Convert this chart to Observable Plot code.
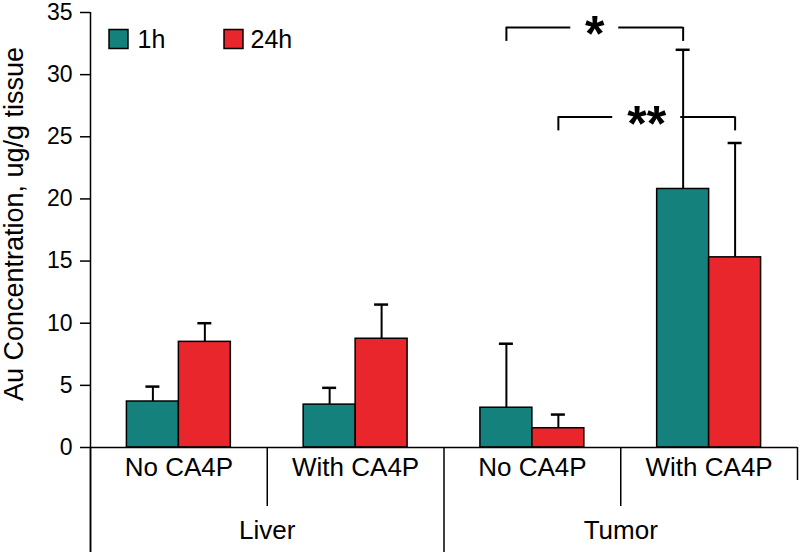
<!DOCTYPE html>
<html><head><meta charset="utf-8">
<script src="https://cdn.jsdelivr.net/npm/d3@7"></script>
<script src="https://cdn.jsdelivr.net/npm/@observablehq/plot@0.6"></script>
<style>body{margin:0;background:#fff} svg{display:block}</style>
</head><body><div id="chart"></div>
<script>
// ---- data ----
const organs = ["Liver", "Liver", "Tumor", "Tumor"];
const treatments = ["No CA4P", "With CA4P", "No CA4P", "With CA4P"];
const series = ["1h", "24h"];
const mean1h = [3.7, 3.45, 3.2, 20.8];
const mean24h = [8.5, 8.75, 1.55, 15.3];
const sd1h = [1.2, 1.35, 5.15, 11.2];
const sd24h = [1.5, 2.75, 1.1, 9.2];
const yTicks = [0, 5, 10, 15, 20, 25, 30, 35];
const yLabel = "Au Concentration, ug/g tissue";
// significance brackets: compare group index from -> to for a series
const sigLabels = ["*", "**"];
const sigFrom = [2, 2];
const sigTo = [3, 3];
const sigSeries = ["1h", "24h"];
const sigLevel = [33.8, 26.6];

// ---- style ----
const colors = ["#14817d", "#e8262b"];
const FONT = "'Liberation Sans', Arial, Helvetica, sans-serif";
const BW = 0.294; // bar width in group units

const means = [mean1h, mean24h];
const sds = [sd1h, sd24h];
const rows = treatments.flatMap((t, i) => series.map((s, j) => {
  const x1 = i + 0.5 + (j - 1) * BW;
  return {i, organ: organs[i], treatment: t, series: s, mean: means[j][i], sd: sds[j][i],
          x1, x2: x1 + BW, xc: x1 + BW / 2};
}));
const center = (i, s) => i + 0.5 + (series.indexOf(s) - 0.5) * BW;
const sigs = sigLabels.map((label, k) => {
  const a = center(sigFrom[k], sigSeries[k]);
  const b = center(sigTo[k], sigSeries[k]);
  return {label, a, b, mid: (a + b) / 2, y: sigLevel[k]};
});

// group boundaries
const bounds = d3.range(treatments.length + 1);
const organBounds = bounds.filter(b => b === 0 || (b < treatments.length && organs[b] !== organs[b - 1]));
const innerBounds = bounds.filter(b => b > 0 && b < treatments.length && !organBounds.includes(b));
const organNames = [...new Set(organs)];
const organCenters = organNames.map(o => {
  const idx = organs.map((d, i) => d === o ? i : -1).filter(i => i >= 0);
  return {name: o, x: (d3.min(idx) + d3.max(idx) + 1) / 2};
});

const sigMarks = sigs.flatMap(s => {
  const gap = 14 + 10 * s.label.length;
  return [
    Plot.ruleY([s], {x1: "a", x2: "mid", y: "y", insetRight: gap, strokeWidth: 2}),
    Plot.ruleY([s], {x1: "mid", x2: "b", y: "y", insetLeft: gap, strokeWidth: 2}),
    Plot.ruleX([s], {x: "a", y1: "y", y2: "y", insetBottom: -14, strokeWidth: 2}),
    Plot.ruleX([s], {x: "b", y1: "y", y2: "y", insetBottom: -14, strokeWidth: 2}),
    Plot.text([s], {x: "mid", y: "y", text: "label", fontSize: 50, fontWeight: "bold", dy: 8,
                    letterSpacing: 4, fontFamily: FONT})
  ];
});

const legendMarks = series.flatMap((s, j) => [
  Plot.dot([s], {frameAnchor: "top-left", dx: 28 + j * 115, dy: 26.5, symbol: "square", r: 10.7,
                 fill: colors[j], stroke: "black", strokeWidth: 1.5}),
  Plot.text([s], {frameAnchor: "top-left", dx: 47 + j * 113, dy: 27, text: d => d, textAnchor: "start",
                  lineAnchor: "middle", fontSize: 25, fontFamily: FONT, fill: "black"})
]);

const chart = Plot.plot({
  width: 800, height: 552,
  marginLeft: 90, marginRight: 3, marginTop: 12, marginBottom: 105,
  style: {fontFamily: FONT, background: "white", color: "black"},
  x: {type: "linear", domain: [0, treatments.length], axis: null},
  y: {domain: [0, 35], axis: null},
  color: {domain: series, range: colors},
  marks: [
    // error bars
    Plot.ruleX(rows, {x: "xc", y1: "mean", y2: d => d.mean + d.sd, strokeWidth: 2}),
    Plot.ruleY(rows, {y: d => d.mean + d.sd, x1: "xc", x2: "xc", insetLeft: -7, insetRight: -7, strokeWidth: 2.5}),
    // bars
    Plot.rectY(rows, {x1: "x1", x2: "x2", y1: 0, y2: "mean", fill: "series", stroke: "black", strokeWidth: 1.5}),
    // axes lines
    Plot.ruleY([0], {strokeWidth: 1.5}),
    Plot.ruleX([0], {y1: 35, y2: 0, insetBottom: -105, strokeWidth: 1.5}),
    Plot.axisY({ticks: yTicks, tickSize: 10, tickPadding: 8, fontSize: 23, label: null, strokeWidth: 1.5, fontFamily: FONT}),
    // category dividers
    Plot.ruleX(organBounds, {x: d => d, y1: 0, y2: 0, insetBottom: -105, strokeWidth: 1.5}),
    Plot.ruleX(innerBounds, {x: d => d, y1: 0, y2: 0, insetBottom: -59, strokeWidth: 1.5}),
    Plot.ruleX([treatments.length], {x: d => d, y1: 0, y2: 0, insetBottom: -33, strokeWidth: 1.5}),
    // category labels
    Plot.text(treatments, {x: (d, i) => i + 0.5, frameAnchor: "bottom", dy: 10, lineAnchor: "top", text: d => d, fontSize: 26, fontFamily: FONT}),
    Plot.text(organCenters, {x: "x", frameAnchor: "bottom", dy: 73, lineAnchor: "top", text: "name", fontSize: 26, fontFamily: FONT}),
    // y label
    Plot.text([yLabel], {frameAnchor: "left", dx: -76, dy: -6, rotate: -90, textAnchor: "middle", lineAnchor: "middle",
                         text: d => d, fontSize: 27, fontFamily: FONT}),
    ...sigMarks,
    ...legendMarks
  ]
});
document.getElementById("chart").appendChild(chart);
</script>
</body></html>
